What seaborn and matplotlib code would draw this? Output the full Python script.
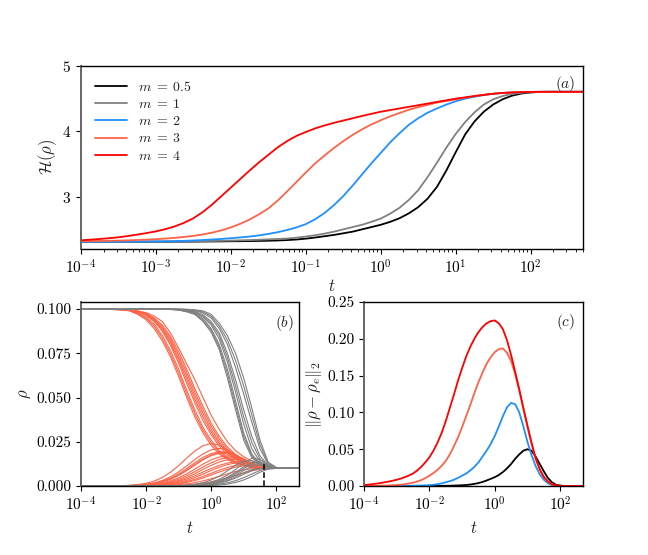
import numpy as np
import pandas as pd
import matplotlib
matplotlib.use("Agg")
import matplotlib.pyplot as plt
import matplotlib.ticker as mticker
import seaborn as sns

# time grid for (a) and (c): log10 t in eighth decades, one row per decade
LOG_T_FINE = [-4, -3.875, -3.75, -3.625, -3.5, -3.375, -3.25, -3.125,
              -3, -2.875, -2.75, -2.625, -2.5, -2.375, -2.25, -2.125,
              -2, -1.875, -1.75, -1.625, -1.5, -1.375, -1.25, -1.125,
              -1, -0.875, -0.75, -0.625, -0.5, -0.375, -0.25, -0.125,
              0, 0.125, 0.25, 0.375, 0.5, 0.625, 0.75, 0.875,
              1, 1.125, 1.25, 1.375, 1.5, 1.625, 1.75, 1.875,
              2, 2.125, 2.25, 2.375, 2.5, 2.625, 2.75]
# time grid for (b): quarter decades
LOG_T = [-4, -3.75, -3.5, -3.25, -3, -2.75, -2.5, -2.25, -2, -1.75, -1.5, -1.25,
         -1, -0.75, -0.5, -0.25, 0, 0.25, 0.5, 0.75, 1, 1.25, 1.5, 1.75, 2, 2.25, 2.5, 2.75]

M_LABELS = [r"$m \;=\; 0.5$", r"$m \;=\; 1$", r"$m \;=\; 2$", r"$m \;=\; 3$", r"$m \;=\; 4$"]
M_COLORS = ["black", "gray", "dodgerblue", "tomato", "red"]

# (a) entropy H(rho)
H_M05 = [2.31, 2.31, 2.31, 2.31, 2.31, 2.31, 2.31, 2.31,
         2.311, 2.311, 2.312, 2.312, 2.313, 2.314, 2.315, 2.316,
         2.318, 2.319, 2.321, 2.323, 2.326, 2.33, 2.336, 2.345,
         2.358, 2.375, 2.395, 2.415, 2.44, 2.465, 2.50, 2.535,
         2.57, 2.615, 2.67, 2.745, 2.84, 2.97, 3.15, 3.40,
         3.68, 3.95, 4.15, 4.30, 4.41, 4.49, 4.545, 4.578,
         4.595, 4.603, 4.605, 4.605, 4.605, 4.605, 4.605]
H_M1 = [2.31, 2.31, 2.31, 2.31, 2.311, 2.311, 2.312, 2.312,
        2.313, 2.314, 2.315, 2.316, 2.318, 2.32, 2.322, 2.325,
        2.328, 2.332, 2.336, 2.341, 2.347, 2.353, 2.36, 2.373,
        2.39, 2.41, 2.435, 2.465, 2.50, 2.535, 2.57, 2.615,
        2.665, 2.74, 2.83, 2.95, 3.10, 3.30, 3.52, 3.75,
        3.96, 4.14, 4.29, 4.41, 4.49, 4.54, 4.572, 4.59,
        4.60, 4.604, 4.605, 4.605, 4.605, 4.605, 4.605]
H_M2 = [2.31, 2.31, 2.311, 2.311, 2.312, 2.312, 2.313, 2.314,
        2.315, 2.317, 2.32, 2.324, 2.33, 2.337, 2.345, 2.354,
        2.365, 2.377, 2.39, 2.408, 2.43, 2.457, 2.49, 2.53,
        2.58, 2.655, 2.75, 2.87, 3.01, 3.17, 3.34, 3.51,
        3.67, 3.83, 3.97, 4.10, 4.20, 4.285, 4.35, 4.41,
        4.46, 4.50, 4.53, 4.555, 4.575, 4.588, 4.595, 4.60,
        4.603, 4.605, 4.605, 4.605, 4.605, 4.605, 4.605]
H_M3 = [2.318, 2.32, 2.322, 2.325, 2.328, 2.332, 2.337, 2.343,
        2.35, 2.359, 2.37, 2.384, 2.40, 2.422, 2.45, 2.485,
        2.53, 2.585, 2.65, 2.73, 2.82, 2.94, 3.08, 3.225,
        3.37, 3.51, 3.63, 3.745, 3.85, 3.945, 4.03, 4.105,
        4.17, 4.23, 4.28, 4.33, 4.37, 4.405, 4.44, 4.465,
        4.49, 4.515, 4.54, 4.56, 4.575, 4.587, 4.595, 4.60,
        4.603, 4.605, 4.605, 4.605, 4.605, 4.605, 4.605]
H_M4 = [2.333, 2.342, 2.353, 2.365, 2.379, 2.398, 2.42, 2.443,
        2.47, 2.503, 2.545, 2.60, 2.67, 2.765, 2.88, 3.01,
        3.14, 3.27, 3.40, 3.525, 3.64, 3.755, 3.85, 3.93,
        3.99, 4.045, 4.09, 4.13, 4.165, 4.20, 4.235, 4.268,
        4.30, 4.325, 4.35, 4.375, 4.40, 4.425, 4.45, 4.475,
        4.50, 4.52, 4.54, 4.558, 4.575, 4.587, 4.595, 4.60,
        4.603, 4.605, 4.605, 4.605, 4.605, 4.605, 4.605]

# (c) distance to equilibrium ||rho - rho_e||_2
D_M05 = [0, 0, 0, 0, 0, 0, 0, 0,
         0, 0, 0, 0, 0, 0, 0, 0,
         0.0001, 0.0001, 0.0002, 0.0002, 0.0003, 0.0004, 0.0006, 0.0008,
         0.001, 0.0014, 0.002, 0.0029, 0.004, 0.0055, 0.0075, 0.0097,
         0.012, 0.015, 0.019, 0.024, 0.030, 0.037, 0.043, 0.048,
         0.050, 0.048, 0.040, 0.030, 0.020, 0.011, 0.005, 0.0018,
         0.0006, 0.0001, 0, 0, 0, 0, 0]
D_M2 = [0, 0, 0, 0, 0, 0, 0, 0.0001,
        0.0001, 0.0001, 0.0002, 0.0003, 0.0004, 0.0005, 0.0007, 0.0009,
        0.0012, 0.0017, 0.0025, 0.0036, 0.005, 0.0066, 0.0085, 0.011,
        0.014, 0.017, 0.021, 0.026, 0.032, 0.040, 0.048, 0.057,
        0.068, 0.081, 0.095, 0.107, 0.113, 0.111, 0.100, 0.081,
        0.060, 0.042, 0.027, 0.016, 0.0085, 0.0038, 0.0013, 0.0004,
        0.0001, 0, 0, 0, 0, 0, 0]
D_M3 = [0, 0.0001, 0.0002, 0.0003, 0.0004, 0.0006, 0.0008, 0.0011,
        0.0014, 0.0019, 0.0025, 0.0034, 0.0045, 0.006, 0.008, 0.0107,
        0.014, 0.0177, 0.022, 0.0275, 0.034, 0.043, 0.054, 0.066,
        0.080, 0.095, 0.110, 0.126, 0.141, 0.154, 0.166, 0.175,
        0.182, 0.186, 0.187, 0.181, 0.170, 0.152, 0.130, 0.105,
        0.080, 0.057, 0.037, 0.022, 0.012, 0.0058, 0.0022, 0.0008,
        0.0003, 0.0001, 0, 0, 0, 0, 0]
D_M4 = [0.0014, 0.0019, 0.0025, 0.0032, 0.004, 0.005, 0.006, 0.0072,
        0.0085, 0.010, 0.012, 0.0143, 0.017, 0.021, 0.026, 0.032,
        0.039, 0.048, 0.059, 0.072, 0.088, 0.106, 0.124, 0.143,
        0.160, 0.176, 0.189, 0.200, 0.209, 0.216, 0.221, 0.224,
        0.225, 0.221, 0.213, 0.198, 0.178, 0.155, 0.131, 0.106,
        0.082, 0.059, 0.038, 0.023, 0.0125, 0.0062, 0.0025, 0.0009,
        0.0003, 0.0001, 0, 0, 0, 0, 0]

# (b) individual rho_i(t), m = 3 (tomato) and m = 1 (gray)
RHO_M3_HIGH = [
    [0.1, 0.1, 0.1, 0.0999, 0.0998, 0.0995, 0.099, 0.097, 0.094, 0.089, 0.082, 0.073,
     0.062, 0.050, 0.039, 0.030, 0.023, 0.018, 0.015, 0.013, 0.0115, 0.0105, 0.0102, 0.0100, 0.01, 0.01, 0.01, 0.01],
    [0.1, 0.1, 0.1, 0.0999, 0.0998, 0.0996, 0.0991, 0.0972, 0.0948, 0.0903, 0.0835, 0.0748,
     0.064, 0.052, 0.041, 0.0315, 0.0245, 0.019, 0.0155, 0.0133, 0.0117, 0.0106, 0.0102, 0.0100, 0.01, 0.01, 0.01, 0.01],
    [0.1, 0.1, 0.1, 0.0999, 0.0998, 0.0996, 0.0992, 0.0975, 0.0955, 0.0915, 0.085, 0.0765,
     0.066, 0.054, 0.043, 0.033, 0.026, 0.020, 0.0163, 0.0138, 0.012, 0.0108, 0.0103, 0.0101, 0.01, 0.01, 0.01, 0.01],
    [0.1, 0.1, 0.1, 0.1, 0.0999, 0.0997, 0.0994, 0.098, 0.0965, 0.093, 0.0875, 0.0795,
     0.0695, 0.058, 0.047, 0.037, 0.029, 0.0225, 0.018, 0.015, 0.0128, 0.0113, 0.0105, 0.0102, 0.01, 0.01, 0.01, 0.01],
    [0.1, 0.1, 0.1, 0.1, 0.0999, 0.0997, 0.0994, 0.0982, 0.0968, 0.0935, 0.0882, 0.0808,
     0.071, 0.060, 0.049, 0.039, 0.0305, 0.0238, 0.019, 0.0155, 0.0132, 0.0116, 0.0106, 0.0102, 0.0101, 0.01, 0.01, 0.01],
    [0.1, 0.1, 0.1, 0.1, 0.0999, 0.0998, 0.0995, 0.0985, 0.097, 0.094, 0.089, 0.082,
     0.0725, 0.062, 0.051, 0.041, 0.032, 0.025, 0.0197, 0.016, 0.0137, 0.0119, 0.0108, 0.0103, 0.0101, 0.01, 0.01, 0.01],
    [0.1, 0.1, 0.1, 0.1, 0.1, 0.0998, 0.0995, 0.0987, 0.0972, 0.0945, 0.09, 0.0832,
     0.0742, 0.064, 0.053, 0.043, 0.0338, 0.0265, 0.0208, 0.0168, 0.0143, 0.0123, 0.011, 0.0104, 0.0101, 0.01, 0.01, 0.01],
    [0.1, 0.1, 0.1, 0.1, 0.1, 0.0998, 0.0996, 0.0988, 0.0975, 0.095, 0.091, 0.0845,
     0.076, 0.066, 0.055, 0.045, 0.0355, 0.028, 0.022, 0.0178, 0.015, 0.0128, 0.0113, 0.0105, 0.0102, 0.01, 0.01, 0.01],
    [0.1, 0.1, 0.1, 0.1, 0.1, 0.0999, 0.0996, 0.099, 0.098, 0.096, 0.093, 0.0865,
     0.078, 0.069, 0.060, 0.050, 0.040, 0.032, 0.025, 0.020, 0.0165, 0.0142, 0.0122, 0.0109, 0.0103, 0.0101, 0.01, 0.01],
]
RHO_M3_LOW = [
    [0, 0, 0, 0.0001, 0.0001, 0.0002, 0.0004, 0.0008, 0.0015, 0.0028, 0.0048, 0.0078,
     0.0115, 0.0158, 0.0198, 0.0228, 0.024, 0.0232, 0.0205, 0.017, 0.0138, 0.0117, 0.0106, 0.0101, 0.01, 0.01, 0.01, 0.01],
    [0, 0, 0, 0, 0.0001, 0.0002, 0.0003, 0.0006, 0.0010, 0.0018, 0.0031, 0.0052,
     0.0080, 0.0114, 0.0150, 0.0182, 0.0204, 0.0213, 0.0203, 0.0178, 0.0148, 0.0124, 0.0110, 0.0103, 0.0100, 0.01, 0.01, 0.01],
    [0, 0, 0, 0, 0, 0.0001, 0.0002, 0.0004, 0.0008, 0.0015, 0.0026, 0.0043,
     0.0068, 0.0099, 0.0132, 0.0162, 0.0183, 0.0195, 0.0192, 0.0176, 0.0153, 0.0130, 0.0113, 0.0104, 0.0101, 0.01, 0.01, 0.01],
    [0, 0, 0, 0, 0.0001, 0.0001, 0.0002, 0.0004, 0.0008, 0.0014, 0.0024, 0.0039,
     0.0060, 0.0087, 0.0118, 0.0148, 0.0172, 0.0185, 0.0183, 0.0168, 0.0147, 0.0126, 0.0111, 0.0104, 0.0101, 0.01, 0.01, 0.01],
    [0, 0, 0, 0, 0, 0.0001, 0.0002, 0.0004, 0.0008, 0.0014, 0.0024, 0.0040,
     0.0062, 0.0090, 0.0122, 0.0152, 0.0175, 0.0188, 0.0189, 0.0175, 0.0152, 0.0128, 0.0112, 0.0104, 0.0101, 0.01, 0.01, 0.01],
    [0, 0, 0, 0, 0, 0, 0.0001, 0.0002, 0.0005, 0.0010, 0.0017, 0.0029,
     0.0046, 0.0069, 0.0096, 0.0124, 0.0148, 0.0164, 0.0170, 0.0164, 0.0148, 0.0128, 0.0113, 0.0105, 0.0101, 0.01, 0.01, 0.01],
    [0, 0, 0, 0, 0, 0, 0.0001, 0.0002, 0.0004, 0.0008, 0.0014, 0.0024,
     0.0038, 0.0058, 0.0082, 0.0108, 0.0131, 0.0150, 0.0160, 0.0158, 0.0145, 0.0127, 0.0112, 0.0104, 0.0101, 0.01, 0.01, 0.01],
    [0, 0, 0, 0, 0, 0, 0.0001, 0.0002, 0.0003, 0.0006, 0.0011, 0.0019,
     0.0031, 0.0048, 0.0070, 0.0094, 0.0117, 0.0136, 0.0148, 0.0150, 0.0142, 0.0126, 0.0112, 0.0104, 0.0101, 0.01, 0.01, 0.01],
    [0, 0, 0, 0, 0, 0, 0, 0.0001, 0.0003, 0.0005, 0.0009, 0.0016,
     0.0026, 0.0040, 0.0058, 0.0079, 0.0099, 0.0117, 0.0130, 0.0137, 0.0135, 0.0125, 0.0112, 0.0104, 0.0101, 0.01, 0.01, 0.01],
    [0, 0, 0, 0, 0, 0, 0, 0.0001, 0.0002, 0.0004, 0.0007, 0.0012,
     0.0020, 0.0032, 0.0048, 0.0067, 0.0088, 0.0106, 0.0121, 0.0130, 0.0130, 0.0122, 0.0111, 0.0104, 0.0101, 0.01, 0.01, 0.01],
    [0, 0, 0, 0, 0, 0, 0, 0.0001, 0.0001, 0.0003, 0.0005, 0.0009,
     0.0015, 0.0025, 0.0038, 0.0054, 0.0072, 0.0090, 0.0105, 0.0116, 0.0121, 0.0118, 0.0110, 0.0104, 0.0101, 0.01, 0.01, 0.01],
    [0, 0, 0, 0, 0, 0, 0, 0, 0.0001, 0.0002, 0.0004, 0.0007,
     0.0012, 0.0020, 0.0031, 0.0045, 0.0062, 0.0079, 0.0095, 0.0107, 0.0114, 0.0114, 0.0108, 0.0103, 0.0101, 0.01, 0.01, 0.01],
    [0, 0, 0, 0, 0, 0, 0, 0, 0, 0.0001, 0.0002, 0.0004,
     0.0007, 0.0012, 0.0019, 0.0029, 0.0041, 0.0055, 0.0069, 0.0082, 0.0092, 0.0098, 0.0100, 0.0100, 0.01, 0.01, 0.01, 0.01],
    [0, 0, 0, 0, 0, 0, 0, 0, 0, 0, 0.0001, 0.0002,
     0.0003, 0.0006, 0.0010, 0.0016, 0.0024, 0.0034, 0.0046, 0.0060, 0.0074, 0.0086, 0.0095, 0.0099, 0.01, 0.01, 0.01, 0.01],
]
RHO_M1_HIGH = [
    [0.1, 0.1, 0.1, 0.1, 0.1, 0.1, 0.1, 0.1, 0.1, 0.1, 0.1, 0.0998,
     0.0995, 0.0985, 0.097, 0.093, 0.087, 0.077, 0.061, 0.043, 0.026, 0.016, 0.012, 0.0105, 0.0101, 0.01, 0.01, 0.01],
    [0.1, 0.1, 0.1, 0.1, 0.1, 0.1, 0.1, 0.1, 0.1, 0.1, 0.1, 0.0998,
     0.0995, 0.0986, 0.0972, 0.0937, 0.088, 0.0785, 0.0635, 0.0455, 0.028, 0.017, 0.0124, 0.0106, 0.0101, 0.01, 0.01, 0.01],
    [0.1, 0.1, 0.1, 0.1, 0.1, 0.1, 0.1, 0.1, 0.1, 0.1, 0.1, 0.0999,
     0.0996, 0.0988, 0.0975, 0.0945, 0.089, 0.080, 0.066, 0.048, 0.030, 0.018, 0.0128, 0.0107, 0.0101, 0.01, 0.01, 0.01],
    [0.1, 0.1, 0.1, 0.1, 0.1, 0.1, 0.1, 0.1, 0.1, 0.1, 0.1, 0.1,
     0.0997, 0.0991, 0.098, 0.0955, 0.091, 0.083, 0.070, 0.053, 0.035, 0.021, 0.0138, 0.011, 0.0102, 0.01, 0.01, 0.01],
    [0.1, 0.1, 0.1, 0.1, 0.1, 0.1, 0.1, 0.1, 0.1, 0.1, 0.1, 0.1,
     0.0997, 0.0992, 0.0983, 0.096, 0.092, 0.085, 0.0725, 0.0565, 0.039, 0.0245, 0.0153, 0.0114, 0.0102, 0.01, 0.01, 0.01],
    [0.1, 0.1, 0.1, 0.1, 0.1, 0.1, 0.1, 0.1, 0.1, 0.1, 0.1, 0.1,
     0.0998, 0.0994, 0.0986, 0.0968, 0.093, 0.0865, 0.075, 0.060, 0.043, 0.028, 0.017, 0.0118, 0.0103, 0.0101, 0.01, 0.01],
    [0.1, 0.1, 0.1, 0.1, 0.1, 0.1, 0.1, 0.1, 0.1, 0.1, 0.1, 0.1,
     0.1, 0.0997, 0.0991, 0.0978, 0.095, 0.089, 0.080, 0.067, 0.052, 0.036, 0.021, 0.0125, 0.0104, 0.0101, 0.01, 0.01],
    [0.1, 0.1, 0.1, 0.1, 0.1, 0.1, 0.1, 0.1, 0.1, 0.1, 0.1, 0.1,
     0.1, 0.0998, 0.0993, 0.0984, 0.096, 0.0905, 0.0825, 0.071, 0.0565, 0.040, 0.0235, 0.013, 0.0104, 0.0101, 0.01, 0.01],
    [0.1, 0.1, 0.1, 0.1, 0.1, 0.1, 0.1, 0.1, 0.1, 0.1, 0.1, 0.1,
     0.1, 0.0999, 0.0996, 0.099, 0.097, 0.092, 0.085, 0.075, 0.061, 0.044, 0.026, 0.0135, 0.0105, 0.0101, 0.01, 0.01],
]
RHO_M1_LOW = [
    [0, 0, 0, 0, 0, 0, 0, 0, 0, 0, 0, 0.0001,
     0.0002, 0.0005, 0.0010, 0.0019, 0.0034, 0.0056, 0.0086, 0.0118, 0.0141, 0.0143, 0.0124, 0.0107, 0.0101, 0.01, 0.01, 0.01],
    [0, 0, 0, 0, 0, 0, 0, 0, 0, 0, 0, 0,
     0.0001, 0.0003, 0.0006, 0.0012, 0.0022, 0.0038, 0.0062, 0.0093, 0.0130, 0.0156, 0.0150, 0.0118, 0.0103, 0.0100, 0.01, 0.01],
    [0, 0, 0, 0, 0, 0, 0, 0, 0, 0, 0, 0,
     0.0001, 0.0002, 0.0005, 0.0009, 0.0017, 0.0030, 0.0050, 0.0077, 0.0108, 0.0132, 0.0136, 0.0114, 0.0102, 0.01, 0.01, 0.01],
    [0, 0, 0, 0, 0, 0, 0, 0, 0, 0, 0, 0,
     0.0001, 0.0002, 0.0004, 0.0008, 0.0015, 0.0027, 0.0045, 0.0070, 0.0099, 0.0122, 0.0128, 0.0112, 0.0102, 0.01, 0.01, 0.01],
    [0, 0, 0, 0, 0, 0, 0, 0, 0, 0, 0, 0,
     0, 0.0001, 0.0003, 0.0007, 0.0013, 0.0023, 0.0039, 0.0061, 0.0088, 0.0110, 0.0120, 0.0109, 0.0101, 0.01, 0.01, 0.01],
    [0, 0, 0, 0, 0, 0, 0, 0, 0, 0, 0, 0,
     0, 0.0001, 0.0002, 0.0005, 0.0010, 0.0019, 0.0032, 0.0052, 0.0076, 0.0093, 0.0100, 0.0101, 0.01, 0.01, 0.01, 0.01],
    [0, 0, 0, 0, 0, 0, 0, 0, 0, 0, 0, 0,
     0, 0, 0.0002, 0.0004, 0.0009, 0.0016, 0.0028, 0.0045, 0.0066, 0.0086, 0.0099, 0.0101, 0.01, 0.01, 0.01, 0.01],
    [0, 0, 0, 0, 0, 0, 0, 0, 0, 0, 0, 0,
     0, 0, 0.0001, 0.0002, 0.0005, 0.0010, 0.0018, 0.0030, 0.0047, 0.0068, 0.0088, 0.0098, 0.01, 0.01, 0.01, 0.01],
    [0, 0, 0, 0, 0, 0, 0, 0, 0, 0, 0, 0,
     0, 0, 0, 0.0001, 0.0003, 0.0006, 0.0011, 0.0020, 0.0034, 0.0054, 0.0078, 0.0095, 0.01, 0.01, 0.01, 0.01],
]

# dashed marker in (b)
T_MARK = 43
RHO_MARK = 0.0125

t_fine = 10.0 ** np.array(LOG_T_FINE)
t = 10.0 ** np.array(LOG_T)

sns.set_style("ticks")
plt.rcParams["font.family"] = "serif"
plt.rcParams["font.serif"] = ["cmr10"]
plt.rcParams["mathtext.fontset"] = "cm"
plt.rcParams["axes.formatter.use_mathtext"] = True
plt.rcParams["axes.unicode_minus"] = False
plt.rcParams["axes.edgecolor"] = "black"
plt.rcParams["xtick.color"] = "black"
plt.rcParams["ytick.color"] = "black"
plt.rcParams["axes.linewidth"] = 1.0


def long_frame(times, series, labels):
    rows = []
    for lab, vals in zip(labels, series):
        rows.append(pd.DataFrame({"t": times, "v": vals, "m": lab}))
    return pd.concat(rows, ignore_index=True)


def style_axis(ax, pad=4):
    ax.set_xscale("log")
    ax.set_xlim(1e-4, 500)
    ax.spines["left"].set_color("#666666")
    ax.spines["left"].set_linewidth(1.4)
    ax.tick_params(labelsize=11, direction="out")
    ax.set_xlabel("$t$", fontsize=12, labelpad=pad)


fig = plt.figure(figsize=(6.48, 5.55), dpi=100)
ax_a = fig.add_axes([0.125, 0.5514, 0.7747, 0.3297])
ax_b = fig.add_axes([0.125, 0.1243, 0.3364, 0.3315])
ax_c = fig.add_axes([0.5617, 0.1243, 0.338, 0.3315])

# (a)
df_a = long_frame(t_fine, [H_M05, H_M1, H_M2, H_M3, H_M4], M_LABELS)
sns.lineplot(data=df_a, x="t", y="v", hue="m", hue_order=M_LABELS,
             palette=M_COLORS, linewidth=1.3, ax=ax_a)
style_axis(ax_a, pad=1)
ax_a.set_ylim(2.2, 5)
ax_a.set_yticks([3, 4, 5])
ax_a.xaxis.set_major_locator(mticker.LogLocator(base=10, numticks=20))
ax_a.xaxis.set_minor_locator(mticker.LogLocator(base=10, subs=np.arange(2, 10), numticks=20))
ax_a.xaxis.set_minor_formatter(mticker.NullFormatter())
ax_a.set_ylabel(r"$\mathcal{H}(\rho)$", fontsize=12, labelpad=2)
ax_a.legend(loc="upper left", frameon=False, fontsize=10, handlelength=2.3,
            labelspacing=0.3, borderaxespad=0.6)
ax_a.text(0.985, 0.9, "$(a)$", transform=ax_a.transAxes, ha="right", va="center", fontsize=11)

# (b)
groups = [(RHO_M3_LOW, "tomato"), (RHO_M3_HIGH, "tomato"),
          (RHO_M1_LOW, "gray"), (RHO_M1_HIGH, "gray")]
for curves, col in groups:
    rows = [pd.DataFrame({"t": t, "v": vals, "unit": i}) for i, vals in enumerate(curves)]
    df_b = pd.concat(rows, ignore_index=True)
    sns.lineplot(data=df_b, x="t", y="v", units="unit", estimator=None,
                 color=col, linewidth=0.8, ax=ax_b)
ax_b.plot([T_MARK, T_MARK], [0, RHO_MARK], color="black", linestyle="--", linewidth=1.1)
style_axis(ax_b)
ax_b.set_ylim(0, 0.104)
ax_b.set_yticks([0, 0.025, 0.05, 0.075, 0.1])
ax_b.yaxis.set_major_formatter(mticker.FormatStrFormatter("%.3f"))
ax_b.set_xticks([1e-4, 1e-2, 1, 1e2])
ax_b.xaxis.set_minor_locator(mticker.NullLocator())
ax_b.set_ylabel(r"$\rho$", fontsize=12, labelpad=2)
ax_b.text(0.975, 0.887, "$(b)$", transform=ax_b.transAxes, ha="right", va="center", fontsize=11)

# (c)
c_labels = [M_LABELS[0], M_LABELS[2], M_LABELS[3], M_LABELS[4]]
c_colors = [M_COLORS[0], M_COLORS[2], M_COLORS[3], M_COLORS[4]]
df_c = long_frame(t_fine, [D_M05, D_M2, D_M3, D_M4], c_labels)
sns.lineplot(data=df_c, x="t", y="v", hue="m", hue_order=c_labels,
             palette=c_colors, linewidth=1.3, legend=False, ax=ax_c)
style_axis(ax_c)
ax_c.set_ylim(0, 0.25)
ax_c.set_yticks([0, 0.05, 0.1, 0.15, 0.2, 0.25])
ax_c.yaxis.set_major_formatter(mticker.FormatStrFormatter("%.2f"))
ax_c.set_xticks([1e-4, 1e-2, 1, 1e2])
ax_c.xaxis.set_minor_locator(mticker.NullLocator())
ax_c.set_ylabel(r"$\|\rho - \rho_e\|_2$", fontsize=12, labelpad=2)
ax_c.text(0.963, 0.893, "$(c)$", transform=ax_c.transAxes, ha="right", va="center", fontsize=11)

fig.savefig("out.png", dpi=100)
